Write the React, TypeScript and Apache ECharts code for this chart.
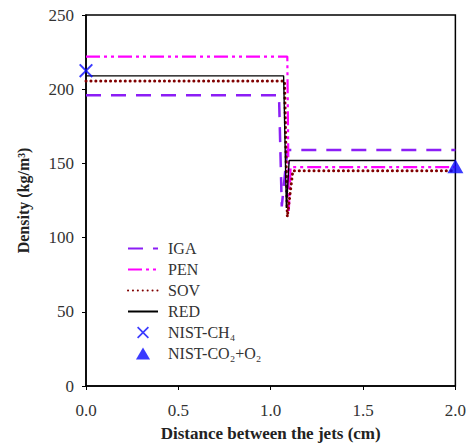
import React, { useEffect, useRef } from "react";
import * as echarts from "echarts";

const igaX = [0, 1.045, 1.06, 1.09, 2.0];
const igaY = [196, 196, 121, 159, 159];
const penX = [0, 1.09, 1.098, 1.108, 2.0];
const penY = [222, 222, 118, 147.5, 147.5];
const sovX = [0, 1.075, 1.09, 1.12, 2.0];
const sovY = [205.5, 205.5, 114, 145, 145];
const redX = [0, 1.07, 1.085, 1.1, 2.0];
const redY = [209, 209, 120, 152, 152];
const nistCH4 = [[0, 212.5]];
const nistCO2 = [[2.0, 148]];
const xTicks = [0, 0.5, 1.0, 1.5, 2.0];
const yTicks = [0, 50, 100, 150, 200, 250];
const legendNames = ["IGA", "PEN", "SOV", "RED", "NIST-CH₄", "NIST-CO₂+O₂"];

const zip = (xs: number[], ys: number[]) => xs.map((x, i) => [x, ys[i]]);

const FONT = "Liberation Serif";
const crossPath =
  "path://M2,0 L10,8 L18,0 L20,2 L12,10 L20,18 L18,20 L10,12 L2,20 L0,18 L8,10 L0,2 Z";
const triPath = "path://M10,0 L20,17 L0,17 Z";

export default function App() {
  const ref = useRef<HTMLDivElement>(null);
  useEffect(() => {
    if (!ref.current) return;
    const chart = echarts.init(ref.current, undefined, { renderer: "svg" });
    const hidden = { color: "rgba(0,0,0,0)", borderWidth: 0, opacity: 0 };
    chart.setOption({
      animation: false,
      backgroundColor: "#ffffff",
      textStyle: { fontFamily: FONT },
      grid: {
        left: 86,
        top: 15,
        right: 9,
        bottom: 60,
        show: true,
        borderColor: "#000",
        borderWidth: 1.5,
      },
      legend: {
        orient: "vertical",
        left: 122,
        top: 235,
        itemWidth: 30,
        itemHeight: 12,
        itemGap: 4,
        symbolKeepAspect: true,
        textStyle: {
          fontFamily: FONT,
          fontSize: 16,
          lineHeight: 17,
          color: "#333",
          padding: [0, 0, 0, 5],
        },
        data: legendNames.map((n, i) =>
          i < 4
            ? { name: n, itemStyle: hidden }
            : i === 4
            ? { name: n, icon: crossPath }
            : { name: n, icon: triPath }
        ),
      },
      xAxis: {
        type: "value",
        min: 0,
        max: 2,
        interval: 0.5,
        name: "Distance between the jets (cm)",
        nameLocation: "middle",
        nameGap: 39,
        nameTextStyle: {
          fontFamily: FONT,
          fontSize: 17,
          fontWeight: "bold",
          color: "#222",
        },
        axisLine: { show: true, lineStyle: { color: "#000", width: 1.5 } },
        axisTick: { show: true, length: 4, lineStyle: { color: "#000" } },
        splitLine: { show: false },
        axisLabel: {
          fontFamily: FONT,
          fontSize: 17,
          color: "#333",
          margin: 16,
          formatter: (v: number) => v.toFixed(1),
          customValues: xTicks,
        },
      },
      yAxis: {
        type: "value",
        min: 0,
        max: 250,
        interval: 50,
        name: "Density (kg/m³)",
        nameLocation: "middle",
        nameGap: 55,
        nameTextStyle: {
          fontFamily: FONT,
          fontSize: 16,
          fontWeight: "bold",
          color: "#222",
        },
        axisLine: { show: true, lineStyle: { color: "#000", width: 1.5 } },
        axisTick: { show: true, length: 4, lineStyle: { color: "#000" } },
        splitLine: { show: false },
        axisLabel: {
          fontFamily: FONT,
          fontSize: 17,
          color: "#333",
          margin: 12,
          customValues: yTicks,
        },
      },
      series: [
        {
          name: "IGA",
          type: "line",
          data: zip(igaX, igaY),
          symbol: "none",
          lineStyle: { color: "#8c1ef5", width: 2.5, type: [15, 10] },
          itemStyle: { color: "#8c1ef5" },
          z: 3,
        },
        {
          name: "PEN",
          type: "line",
          data: zip(penX, penY),
          symbol: "none",
          lineStyle: { color: "#ff00ff", width: 2.2, type: [14, 4, 3, 4, 3, 4] },
          itemStyle: { color: "#ff00ff" },
          z: 3,
        },
        {
          name: "SOV",
          type: "line",
          data: zip(sovX, sovY),
          symbol: "none",
          lineStyle: {
            color: "#800000",
            width: 3,
            type: [0.1, 4.8],
            cap: "round",
          },
          itemStyle: { color: "#800000" },
          z: 4,
        },
        {
          name: "RED",
          type: "line",
          data: zip(redX, redY),
          symbol: "none",
          lineStyle: { color: "#000", width: 1.4 },
          itemStyle: { color: "#000" },
          z: 5,
        },
        {
          name: "NIST-CH₄",
          type: "scatter",
          data: nistCH4,
          symbol: crossPath,
          symbolSize: 14,
          clip: false,
          itemStyle: { color: "#0a0aff" },
          z: 6,
        },
        {
          name: "NIST-CO₂+O₂",
          type: "scatter",
          data: nistCO2,
          symbol: triPath,
          symbolSize: [16, 14],
          clip: false,
          itemStyle: { color: "#0a0aff" },
          z: 6,
        },
      ],
    });
    return () => chart.dispose();
  }, []);
  return <div ref={ref} style={{ width: 469, height: 447, position: "absolute", left: 0, top: 0 }} />;
}
